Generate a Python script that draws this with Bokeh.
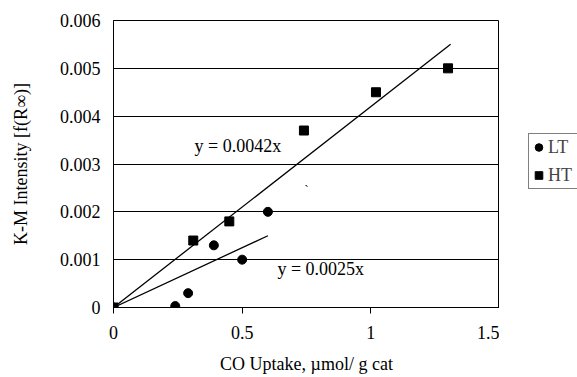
from bokeh.plotting import figure
from bokeh.models import Range1d, FixedTicker, Legend, LegendItem, ColumnDataSource
from bokeh.layouts import row
from bokeh.embed import file_html
from bokeh.resources import INLINE
from bokeh.core.properties import value

# ---- data ----
lt_x = [0.0, 0.24, 0.29, 0.39, 0.50, 0.60]
lt_y = [0.0, 0.00003, 0.0003, 0.0013, 0.0010, 0.0020]
ht_x = [0.0, 0.31, 0.45, 0.74, 1.02, 1.30]
ht_y = [0.0, 0.0014, 0.0018, 0.0037, 0.0045, 0.0050]

lt_slope = 0.0025
ht_slope = 0.0042
lt_fit_x = [0.0, 0.60]
ht_fit_x = [0.0, 1.31]

x_ticks = [0, 0.5, 1, 1.5]
x_tick_labels = ["0", "0.5", "1", "1.5"]
y_ticks = [0, 0.001, 0.002, 0.003, 0.004, 0.005, 0.006]
y_tick_labels = ["0", "0.001", "0.002", "0.003", "0.004", "0.005", "0.006"]

eq_labels = ["y = 0.0042x", "y = 0.0025x"]
eq_x = [0.315, 0.637]
eq_y = [0.00338, 0.00081]

series_names = ["LT", "HT"]

FONT = "Liberation Serif"
FS = "18px"

p = figure(width=499, height=377, output_backend="svg", toolbar_location=None,
           x_range=Range1d(0, 1.5), y_range=Range1d(0, 0.006),
           min_border_left=113, min_border_right=0, min_border_top=20, min_border_bottom=70)
p.background_fill_color = "white"
p.border_fill_color = "white"
p.outline_line_color = "black"
p.outline_line_width = 1

# grid
p.xgrid.grid_line_color = None
p.ygrid.grid_line_color = "black"
p.ygrid.grid_line_width = 1
p.ygrid.ticker = FixedTicker(ticks=y_ticks)

# axes
p.xaxis.ticker = FixedTicker(ticks=x_ticks)
p.xaxis.major_label_overrides = {t: l for t, l in zip(x_ticks, x_tick_labels)}
p.yaxis.ticker = FixedTicker(ticks=y_ticks)
p.yaxis.major_label_overrides = {t: l for t, l in zip(y_ticks, y_tick_labels)}
for ax in (p.xaxis, p.yaxis):
    ax.axis_line_color = "black"
    ax.major_label_text_font = FONT
    ax.major_label_text_font_size = FS
    ax.major_label_text_color = "black"
    ax.axis_label_text_font = FONT
    ax.axis_label_text_font_size = FS
    ax.axis_label_text_font_style = "normal"
    ax.axis_label_text_color = "black"
    ax.minor_tick_line_color = None
p.xaxis.major_tick_in = 0
p.xaxis.major_tick_out = 6
p.xaxis.major_tick_line_color = "black"
p.xaxis.major_label_standoff = 12
p.xaxis.axis_label = "CO Uptake, µmol/ g cat"
p.xaxis.axis_label_standoff = 12
p.yaxis.major_tick_in = 0
p.yaxis.major_tick_out = 0
p.yaxis.major_label_standoff = 13
p.yaxis.axis_label = "K-M Intensity [f(R∞)]"
p.yaxis.axis_label_standoff = 26

# trend lines
p.line(ht_fit_x, [ht_slope * x for x in ht_fit_x], line_color="black", line_width=1.3)
p.line(lt_fit_x, [lt_slope * x for x in lt_fit_x], line_color="black", line_width=1.3)

# markers
p.scatter(lt_x, lt_y, marker="circle", size=9, fill_color="black", line_color="black")
p.scatter(ht_x, ht_y, marker="square", size=9, fill_color="black", line_color="black")

# equation labels
src = ColumnDataSource(dict(x=eq_x, y=eq_y, t=eq_labels))
p.text(x="x", y="y", text="t", source=src, text_font=value(FONT), text_font_size=FS,
       text_baseline="middle", text_align="left", text_color="black")
p.text(x=[0.75], y=[0.00245], text=["`"], text_font=value(FONT), text_font_size="12px",
       text_baseline="middle", text_align="center", text_color="black")

# legend panel (separate narrow figure on the right); its ranges exclude the data
lp = figure(width=78, height=377, output_backend="svg", toolbar_location=None,
            x_range=Range1d(100, 101), y_range=Range1d(100, 101),
            x_axis_location=None, y_axis_location=None,
            min_border_left=0, min_border_right=0, min_border_top=20, min_border_bottom=70)
lp.outline_line_color = None
lp.xgrid.grid_line_color = None
lp.ygrid.grid_line_color = None
lp.background_fill_color = "white"
lp.border_fill_color = "white"
l_lt = lp.scatter(lt_x, lt_y, marker="circle", size=9, fill_color="black", line_color="black")
l_ht = lp.scatter(ht_x, ht_y, marker="square", size=9, fill_color="black", line_color="black")

legend = Legend(items=[LegendItem(label=series_names[0], renderers=[l_lt]),
                       LegendItem(label=series_names[1], renderers=[l_ht])],
                location=(29, 118), margin=0, padding=0, spacing=2,
                glyph_width=19, glyph_height=26, label_standoff=0,
                label_text_font=FONT, label_text_font_size=FS,
                label_height=26, label_width=30,
                border_line_color="black", border_line_width=1,
                background_fill_color="white", background_fill_alpha=1)
lp.add_layout(legend, "center")

layout = row(p, lp, spacing=0)
open("out.html", "w").write(file_html(layout, INLINE))
